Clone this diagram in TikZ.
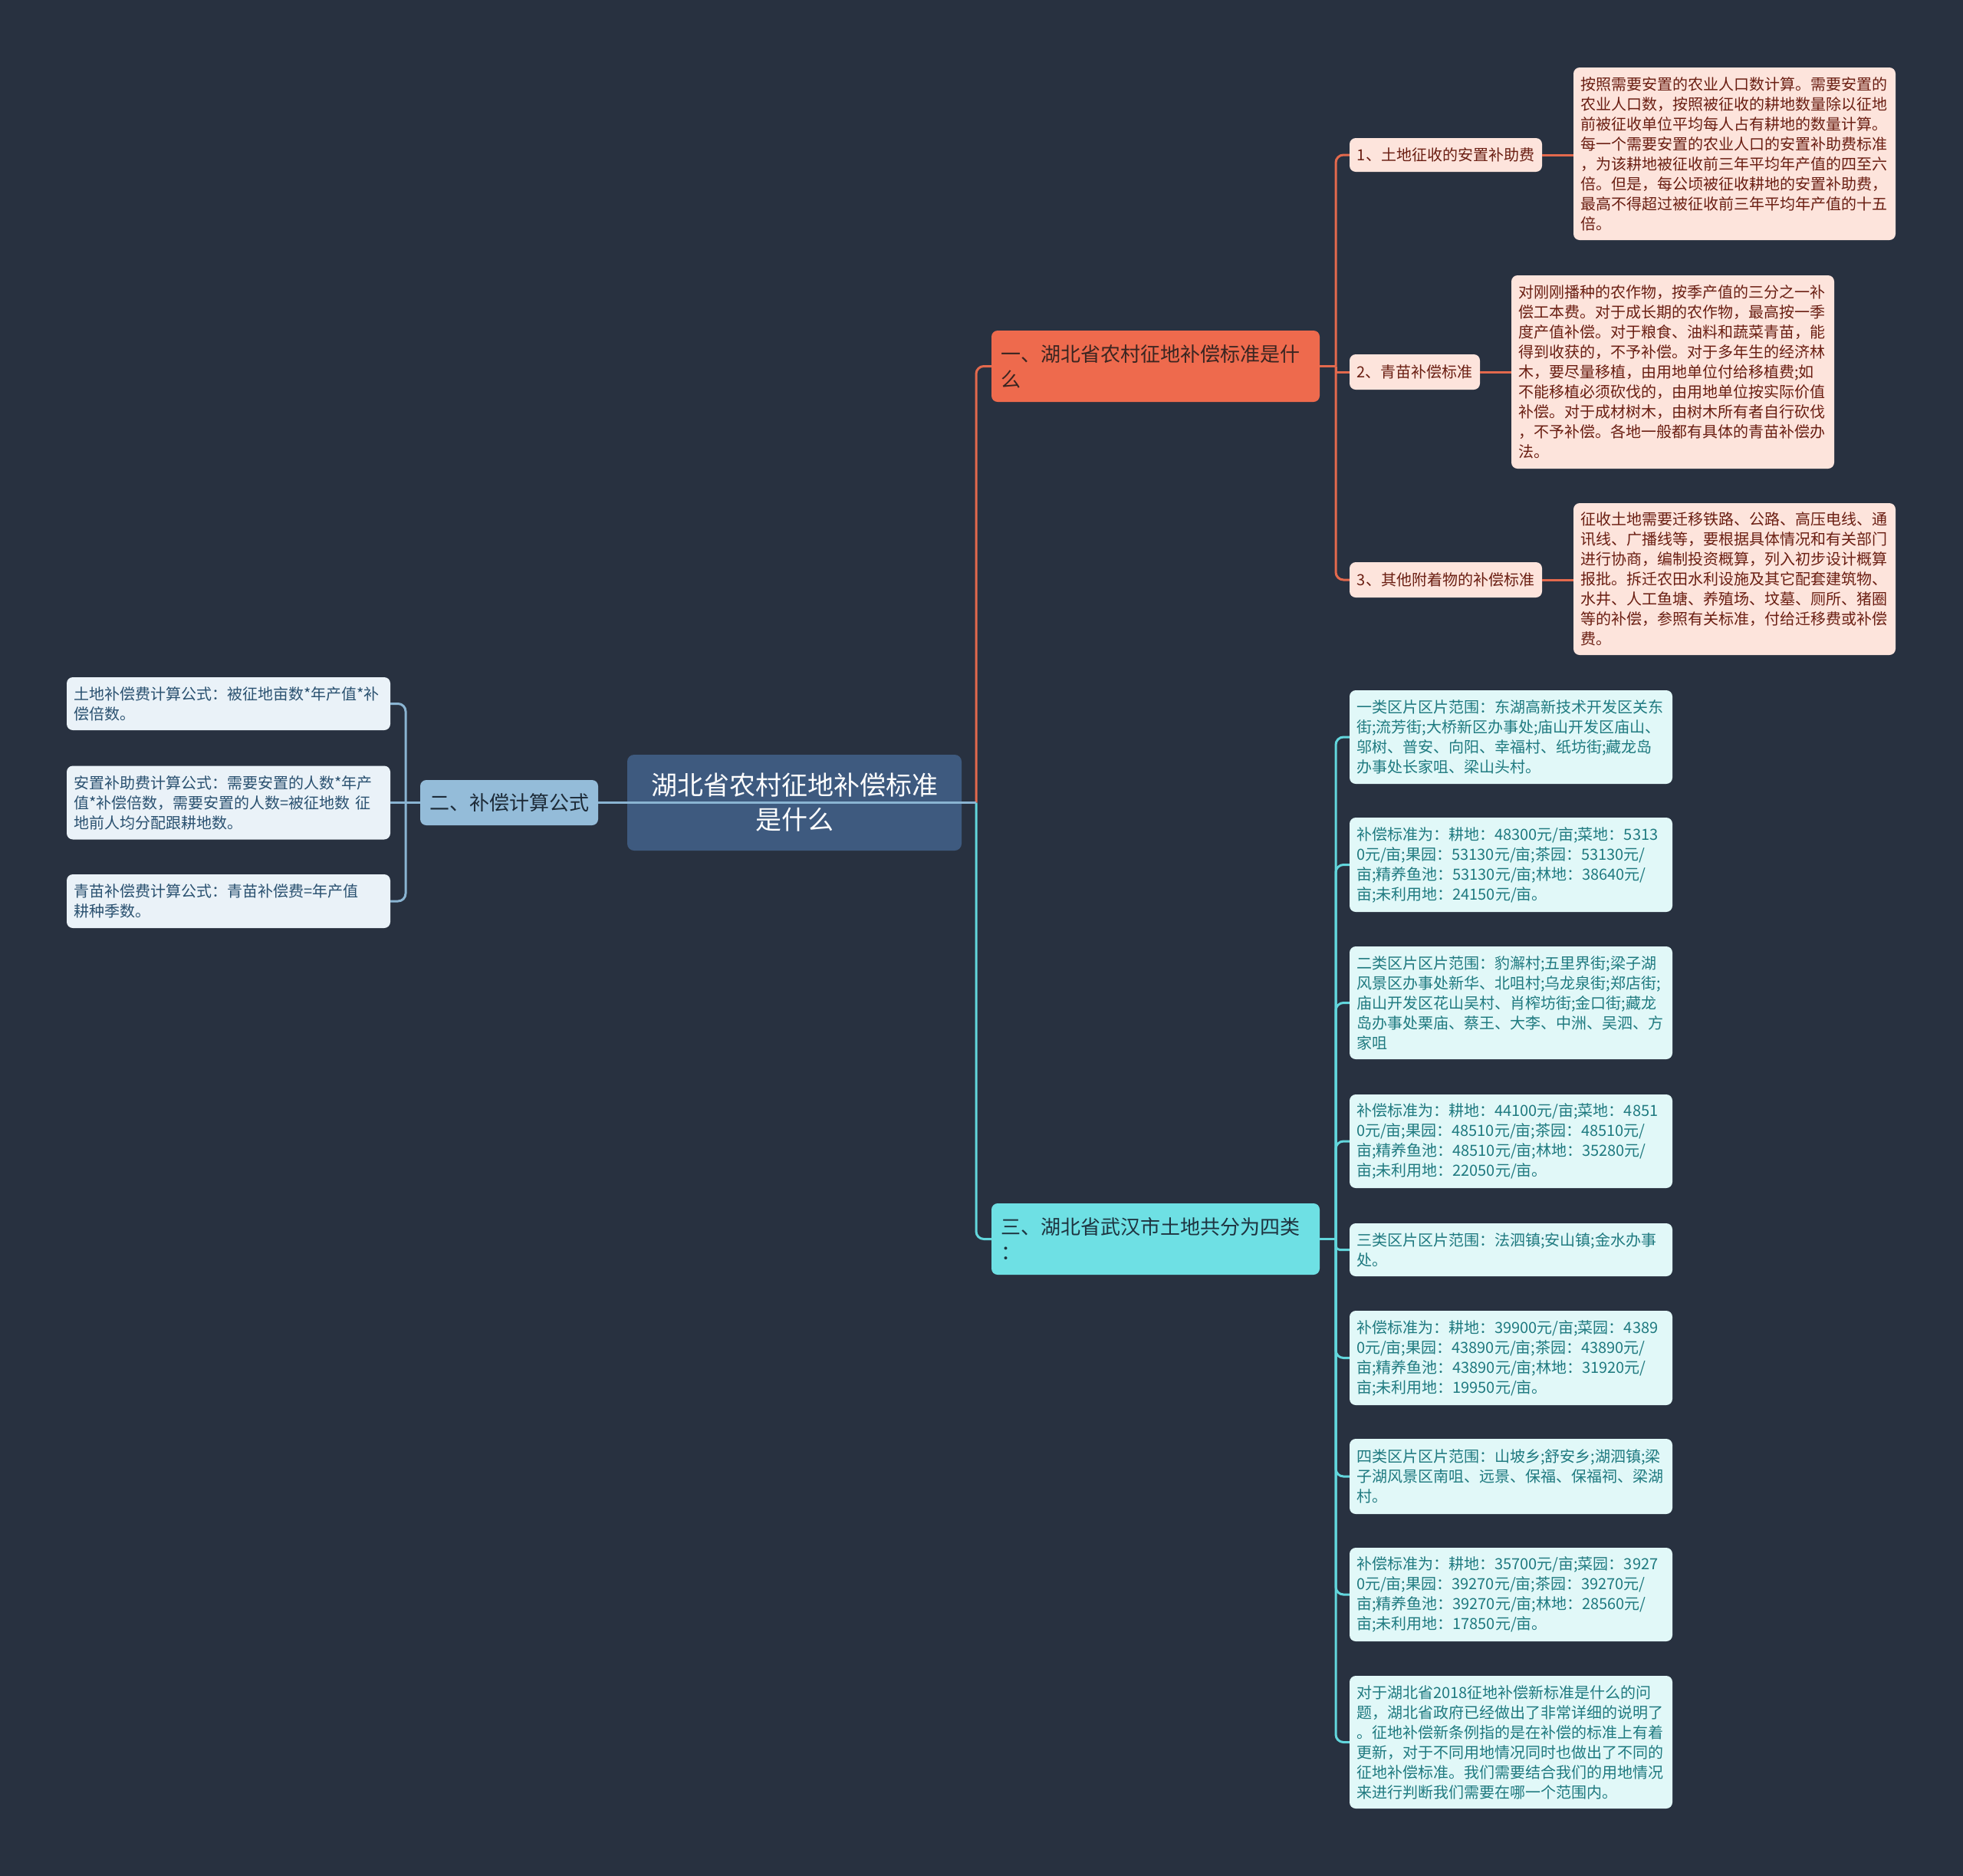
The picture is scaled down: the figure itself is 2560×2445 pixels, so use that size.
\documentclass[tikz,border=0pt]{standalone}
\usepackage{fontspec}
\setmainfont{Noto Sans CJK SC}
\definecolor{bg}{HTML}{283140}
\definecolor{rootfill}{HTML}{3E5A7F}
\definecolor{bonefill}{HTML}{EE6A4D}
\definecolor{bonetext}{HTML}{3A2521}
\definecolor{btwofill}{HTML}{94BCD9}
\definecolor{btwotext}{HTML}{1D2B38}
\definecolor{bthreefill}{HTML}{6EE0E4}
\definecolor{bthreetext}{HTML}{1E3440}
\definecolor{rfill}{HTML}{FDE4DC}
\definecolor{rtext}{HTML}{6A1E12}
\definecolor{lfill}{HTML}{EAF2F8}
\definecolor{ltext}{HTML}{2A5170}
\definecolor{cfill}{HTML}{E1F8F8}
\definecolor{ctext}{HTML}{1F7A80}
\definecolor{redc}{HTML}{E3694D}
\definecolor{bluec}{HTML}{8AB4D2}
\definecolor{cyanc}{HTML}{62D6DC}
\begin{document}
\begin{tikzpicture}[x=1pt,y=-1pt,
  box/.style={rectangle, rounded corners=8pt, inner xsep=9pt, inner ysep=5pt, align=left, font=\fontsize{20}{26}\selectfont},
  leafR/.style={box, fill=rfill, text=rtext},
  leafL/.style={box, fill=lfill, text=ltext},
  leafC/.style={box, fill=cfill, text=ctext},
  branch/.style={rectangle, rounded corners=8pt, inner xsep=12pt, inner ysep=5pt, align=left, font=\fontsize{26}{33}\selectfont},
  rootbox/.style={rectangle, rounded corners=9pt, fill=rootfill, text=white, align=center, font=\fontsize{34}{45}\selectfont},
  redl/.style={draw=redc, line width=3pt, rounded corners=10pt},
  bluel/.style={draw=bluec, line width=3pt, rounded corners=10pt},
  cyanl/.style={draw=cyanc, line width=3pt, rounded corners=10pt}]
\useasboundingbox (0,0) rectangle (2560,2445);
\fill[bg] (-10,-10) rectangle (2570,2455);

% root and branches
\node[rootbox, minimum width=436pt, minimum height=125pt] (root) at (1036,1046.5) {湖北省农村征地补偿标准\\是什么};
\node[branch, fill=bonefill, text=bonetext, text width=404pt, minimum height=93pt] (b1) at (1507,477.5) {一、湖北省农村征地补偿标准是什\\么};
\node[branch, fill=btwofill, text=btwotext, minimum width=230pt, minimum height=59pt, align=center] (b2) at (664,1046.5) {二、补偿计算公式};
\node[branch, fill=bthreefill, text=bthreetext, text width=404pt, minimum height=93pt] (b3) at (1507,1615.5) {三、湖北省武汉市土地共分为四类\\：};

% junctions
\coordinate (jR) at (1273,1046.5);
\coordinate (jL) at (529,1046.5);
\coordinate (jA) at (1742,477.5);
\coordinate (jC) at (1742,1615.5);

% branch 1 children
\node[leafR, minimum width=251pt, minimum height=44pt, align=center] (l1) at (1885.5,202) {1、土地征收的安置补助费};
\node[leafR, minimum width=170pt, minimum height=46pt, align=center] (l2) at (1845,485) {2、青苗补偿标准};
\node[leafR, minimum width=251pt, minimum height=46pt, align=center] (l3) at (1885.5,756) {3、其他附着物的补偿标准};

\node[leafR, text width=402pt, minimum height=225pt] (d1) at (2262,200.5) {按照需要安置的农业人口数计算。需要安置的\\农业人口数，按照被征收的耕地数量除以征地\\前被征收单位平均每人占有耕地的数量计算。\\每一个需要安置的农业人口的安置补助费标准\\，为该耕地被征收前三年平均年产值的四至六\\倍。但是，每公顷被征收耕地的安置补助费，\\最高不得超过被征收前三年平均年产值的十五\\倍。};
\node[leafR, text width=403pt, minimum height=252pt] (d2) at (2181.5,485) {对刚刚播种的农作物，按季产值的三分之一补\\偿工本费。对于成长期的农作物，最高按一季\\度产值补偿。对于粮食、油料和蔬菜青苗，能\\得到收获的，不予补偿。对于多年生的经济林\\木，要尽量移植，由用地单位付给移植费;如\\不能移植必须砍伐的，由用地单位按实际价值\\补偿。对于成材树木，由树木所有者自行砍伐\\，不予补偿。各地一般都有具体的青苗补偿办\\法。};
\node[leafR, text width=402pt, minimum height=198pt] (d3) at (2262,755) {征收土地需要迁移铁路、公路、高压电线、通\\讯线、广播线等，要根据具体情况和有关部门\\进行协商，编制投资概算，列入初步设计概算\\报批。拆迁农田水利设施及其它配套建筑物、\\水井、人工鱼塘、养殖场、坟墓、厕所、猪圈\\等的补偿，参照有关标准，付给迁移费或补偿\\费。};

% branch 2 children
\node[leafL, text width=404pt, minimum height=69pt] (m1) at (298,917.5) {土地补偿费计算公式：被征地亩数*年产值*补\\偿倍数。};
\node[leafL, text width=404pt, minimum height=96pt] (m2) at (298,1046.5) {安置补助费计算公式：需要安置的人数*年产\\值*补偿倍数，需要安置的人数=被征地数~征\\地前人均分配跟耕地数。};
\node[leafL, text width=404pt, minimum height=70pt] (m3) at (298,1175) {青苗补偿费计算公式：青苗补偿费=年产值\\耕种季数。};

% branch 3 children
\node[leafC, text width=403pt, minimum height=122pt] (c1) at (1970.5,961) {一类区片区片范围：东湖高新技术开发区关东\\街;流芳街;大桥新区办事处;庙山开发区庙山、\\邬树、普安、向阳、幸福村、纸坊街;藏龙岛\\办事处长家咀、梁山头村。};
\node[leafC, text width=403pt, minimum height=123pt] (c2) at (1970.5,1127.5) {补偿标准为：耕地：48300元/亩;菜地：5313\\0元/亩;果园：53130元/亩;茶园：53130元/\\亩;精养鱼池：53130元/亩;林地：38640元/\\亩;未利用地：24150元/亩。};
\node[leafC, text width=403pt, minimum height=147pt] (c3) at (1970.5,1307.5) {二类区片区片范围：豹澥村;五里界街;梁子湖\\风景区办事处新华、北咀村;乌龙泉街;郑店街;\\庙山开发区花山吴村、肖榨坊街;金口街;藏龙\\岛办事处栗庙、蔡王、大李、中洲、吴泗、方\\家咀};
\node[leafC, text width=403pt, minimum height=122pt] (c4) at (1970.5,1488) {补偿标准为：耕地：44100元/亩;菜地：4851\\0元/亩;果园：48510元/亩;茶园：48510元/\\亩;精养鱼池：48510元/亩;林地：35280元/\\亩;未利用地：22050元/亩。};
\node[leafC, text width=403pt, minimum height=69pt] (c5) at (1970.5,1629.5) {三类区片区片范围：法泗镇;安山镇;金水办事\\处。};
\node[leafC, text width=403pt, minimum height=123pt] (c6) at (1970.5,1770.5) {补偿标准为：耕地：39900元/亩;菜园：4389\\0元/亩;果园：43890元/亩;茶园：43890元/\\亩;精养鱼池：43890元/亩;林地：31920元/\\亩;未利用地：19950元/亩。};
\node[leafC, text width=403pt, minimum height=98pt] (c7) at (1970.5,1925) {四类区片区片范围：山坡乡;舒安乡;湖泗镇;梁\\子湖风景区南咀、远景、保福、保福祠、梁湖\\村。};
\node[leafC, text width=403pt, minimum height=122pt] (c8) at (1970.5,2079) {补偿标准为：耕地：35700元/亩;菜园：3927\\0元/亩;果园：39270元/亩;茶园：39270元/\\亩;精养鱼池：39270元/亩;林地：28560元/\\亩;未利用地：17850元/亩。};
\node[leafC, text width=403pt, minimum height=173pt] (c9) at (1970.5,2271.5) {对于湖北省2018征地补偿新标准是什么的问\\题，湖北省政府已经做出了非常详细的说明了\\。征地补偿新条例指的是在补偿的标准上有着\\更新，对于不同用地情况同时也做出了不同的\\征地补偿标准。我们需要结合我们的用地情况\\来进行判断我们需要在哪一个范围内。};

% connectors: root
\draw[redl] (jR) |- (b1.west);
\draw[cyanl] (jR) |- (b3.west);
\draw[bluel] (b2.east) -- (jR);

% branch 1
\draw[redl] (b1.east) -- (jA);
\draw[redl] (jA) |- (l1.west);
\draw[redl, rounded corners=0pt] (jA) |- (l2.west);
\draw[redl] (jA) |- (l3.west);
\draw[redl] (l1.east) -- (l1.east -| d1.west);
\draw[redl] (l2.east) -- (l2.east -| d2.west);
\draw[redl] (l3.east) -- (l3.east -| d3.west);

% branch 2
\draw[bluel] (b2.west) -- (jL);
\draw[bluel] (jL) |- (m1.east);
\draw[bluel] (jL) -- (m2.east);
\draw[bluel] (jL) |- (m3.east);

% branch 3
\draw[cyanl] (b3.east) -- (jC);
\foreach \n in {c1,c2,c3,c4,c6,c7,c8,c9} {\draw[cyanl] (jC) |- (\n.west);}
\draw[cyanl, rounded corners=5pt] (jC) |- (c5.west);
\end{tikzpicture}
\end{document}
